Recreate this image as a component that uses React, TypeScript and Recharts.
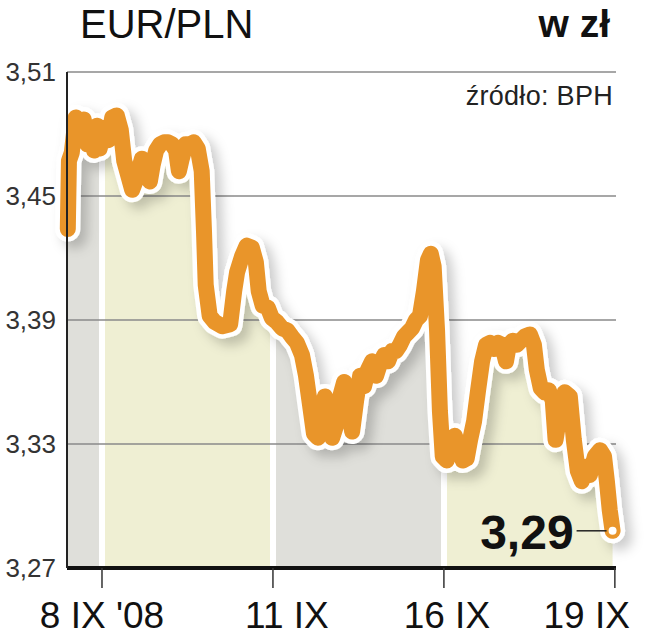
import React from 'react';
import {
  ComposedChart,
  Area,
  Line,
  XAxis,
  YAxis,
  ReferenceLine,
  ReferenceDot,
} from 'recharts';

// x = trading days counted from 8 IX (tick positions), y = EUR/PLN rate
const days = [
  -0.6, -0.58, -0.53, -0.46, -0.39, -0.32, -0.26, -0.21, -0.14, -0.09, -0.04, 0.04, 0.11, 0.18, 0.26, 0.33,
  0.39, 0.46, 0.53, 0.6, 0.65, 0.7, 0.77, 0.84, 0.89, 0.95, 1.02, 1.09, 1.16, 1.23, 1.3, 1.35, 1.4, 1.47,
  1.54, 1.61, 1.68, 1.75, 1.79, 1.82, 1.89, 1.98, 2.11, 2.25, 2.32, 2.37, 2.46, 2.54, 2.63, 2.7, 2.75,
  2.82, 2.91, 2.98, 3.07, 3.16, 3.25, 3.33, 3.42, 3.51, 3.58, 3.65, 3.72, 3.79, 3.86, 3.91, 3.96, 4.04,
  4.11, 4.18, 4.25, 4.32, 4.39, 4.46, 4.53, 4.6, 4.67, 4.74, 4.81, 4.88, 4.95, 5.02, 5.09, 5.16, 5.23,
  5.3, 5.37, 5.44, 5.51, 5.58, 5.65, 5.72, 5.77, 5.82, 5.88, 5.93, 5.98, 6.05, 6.12, 6.19, 6.26, 6.33,
  6.4, 6.46, 6.53, 6.6, 6.67, 6.74, 6.81, 6.88, 6.95, 7.02, 7.09, 7.14, 7.21, 7.28, 7.35, 7.42, 7.51,
  7.58, 7.63, 7.7, 7.77, 7.84, 7.91, 7.96, 8.04, 8.12, 8.21, 8.28, 8.35, 8.42, 8.49, 8.56, 8.65, 8.74,
  8.81, 8.86, 8.91, 8.96,
];

const rates = [
  3.434, 3.467, 3.471, 3.488, 3.483, 3.487, 3.475, 3.483, 3.472, 3.484, 3.473, 3.483, 3.477, 3.488, 3.489, 3.482,
  3.467, 3.46, 3.453, 3.458, 3.463, 3.468, 3.46, 3.457, 3.465, 3.472, 3.475, 3.476, 3.476, 3.475, 3.472, 3.462, 3.468, 3.475,
  3.475, 3.476, 3.473, 3.462, 3.433, 3.407, 3.392, 3.389, 3.387, 3.388, 3.404, 3.413, 3.421, 3.426, 3.425, 3.418, 3.404,
  3.397, 3.396, 3.391, 3.389, 3.386, 3.385, 3.382, 3.379, 3.373, 3.363, 3.349, 3.335, 3.333, 3.344, 3.353, 3.341, 3.333,
  3.339, 3.353, 3.36, 3.349, 3.336, 3.351, 3.363, 3.358, 3.366, 3.37, 3.363, 3.369, 3.373, 3.37, 3.375, 3.375, 3.378,
  3.382, 3.384, 3.386, 3.39, 3.392, 3.404, 3.419, 3.422, 3.416, 3.385, 3.346, 3.324, 3.322, 3.332, 3.334, 3.329, 3.322,
  3.323, 3.332, 3.341, 3.356, 3.37, 3.378, 3.379, 3.376, 3.379, 3.378, 3.37, 3.378, 3.38, 3.378, 3.38, 3.382, 3.383,
  3.378, 3.366, 3.357, 3.355, 3.356, 3.351, 3.332, 3.346, 3.355, 3.353, 3.332, 3.317, 3.312, 3.319, 3.315, 3.324, 3.327,
  3.324, 3.312, 3.298, 3.288,
];

const xTicks = [0, 3, 6, 9];
const xTickLabels = ['8 IX \'08', '11 IX', '16 IX', '19 IX'];
const yTicks = [3.27, 3.33, 3.39, 3.45, 3.51];
const lastLabel = '3,29';

const data = days.map((d, i) => ({ d, v: rates[i] }));
const last = data[data.length - 1];

const ORANGE = '#E9952A';
const GRAY = '#dfdfda';
const BEIGE = '#efefd3';
const FONT = '"Liberation Sans", Arial, sans-serif';

// horizontal band stops for the fill under the line (boundaries at the x ticks)
const first = data[0].d;
const span = last.d - first;
const gap = 0.05;
const off = (x: number) => Math.max(0, Math.min(1, (x - first) / span));
const bandStops: { o: number; c: string }[] = [];
const bandColors = [GRAY, BEIGE, GRAY, BEIGE];
const bounds = [first, ...xTicks.slice(0, 3), last.d];
bandColors.forEach((c, i) => {
  const a = i === 0 ? bounds[i] : bounds[i] + gap;
  const b = i === bandColors.length - 1 ? bounds[i + 1] : bounds[i + 1] - gap;
  if (i > 0) bandStops.push({ o: off(a), c: '#ffffff' });
  bandStops.push({ o: off(a), c });
  bandStops.push({ o: off(b), c });
  if (i < bandColors.length - 1) bandStops.push({ o: off(b), c: '#ffffff' });
});

// label nudges so the dates sit where the print has them
const labelShift = [0, 14, 3, 15];

const XTick = (props: any) => {
  const { x, y, payload } = props;
  const i = xTicks.indexOf(payload.value);
  const isLast = i === xTicks.length - 1;
  return (
    <text
      x={x + labelShift[i]}
      y={y + 38}
      textAnchor={isLast ? 'end' : 'middle'}
      fontSize={37}
      fontFamily={FONT}
      fill="#111"
    >
      {xTickLabels[i]}
    </text>
  );
};

const EndMark = (props: any) => {
  const { cx, cy } = props;
  return (
    <g>
      <line x1={cx - 36} y1={cy} x2={cx - 6} y2={cy} stroke="#222" strokeWidth={1.5} />
      <circle cx={cx} cy={cy} r={4} fill="#fff" />
      <text
        x={cx - 39}
        y={cy + 18}
        textAnchor="end"
        fontSize={48}
        fontWeight="bold"
        fontFamily={FONT}
        fill="#111"
      >
        {lastLabel}
      </text>
    </g>
  );
};

export default function App() {
  return (
    <div style={{ position: 'absolute', left: 0, top: 0, width: 664, height: 640, background: '#fff', fontFamily: FONT }}>
      <div style={{ position: 'absolute', left: 80, top: 4, fontSize: 40, lineHeight: 1, color: '#111' }}>EUR/PLN</div>
      <div style={{ position: 'absolute', right: 54, top: 4, fontSize: 39, lineHeight: 1, fontWeight: 'bold', color: '#111' }}>w zł</div>
      <div style={{ position: 'absolute', right: 51, top: 83, fontSize: 27, lineHeight: 1, color: '#222', letterSpacing: 0.3 }}>
        źródło: BPH
      </div>
      <ComposedChart width={664} height={640} data={data} margin={{ top: 72, right: 48, bottom: 0, left: 0 }}>
        <defs>
          <linearGradient id="bands" x1="0" y1="0" x2="1" y2="0">
            {bandStops.map((s, i) => (
              <stop key={i} offset={s.o} stopColor={s.c} />
            ))}
          </linearGradient>
          <filter id="shadow" x="-20%" y="-20%" width="140%" height="140%">
            <feDropShadow dx={7} dy={7} stdDeviation={6} floodColor="#000" floodOpacity={0.2} />
          </filter>
        </defs>
        <XAxis
          dataKey="d"
          type="number"
          domain={[-0.614, 9.02]}
          ticks={xTicks}
          height={72}
          axisLine={{ stroke: '#111', strokeWidth: 4 }}
          tickLine={{ stroke: '#333', strokeWidth: 1.5 }}
          tickSize={20}
          tick={<XTick />}
          interval={0}
        />
        <YAxis
          type="number"
          domain={[3.27, 3.51]}
          ticks={yTicks}
          width={67}
          axisLine={{ stroke: '#222', strokeWidth: 2 }}
          tickLine={false}
          tickSize={0}
          tickMargin={11}
          tickFormatter={(v: number) => v.toFixed(2).replace('.', ',')}
          tick={{ fontSize: 26, fill: '#333', fontFamily: FONT }}
          interval={0}
        />
        <Area
          dataKey="v"
          type="linear"
          stroke="none"
          fill="url(#bands)"
          fillOpacity={1}
          isAnimationActive={false}
        />
        {yTicks.slice(1).map((t) => (
          <ReferenceLine key={t} y={t} stroke="#8a8a8a" strokeWidth={1.5} />
        ))}
        <Line
          dataKey="v"
          type="linear"
          stroke="#fff"
          strokeWidth={25}
          strokeLinejoin="round"
          strokeLinecap="round"
          dot={false}
          activeDot={false}
          filter="url(#shadow)"
          isAnimationActive={false}
        />
        <Line
          dataKey="v"
          type="linear"
          stroke={ORANGE}
          strokeWidth={16}
          strokeLinejoin="round"
          strokeLinecap="round"
          dot={false}
          activeDot={false}
          isAnimationActive={false}
        />
        <ReferenceDot x={last.d} y={last.v} r={4} shape={<EndMark />} />
      </ComposedChart>
    </div>
  );
}
